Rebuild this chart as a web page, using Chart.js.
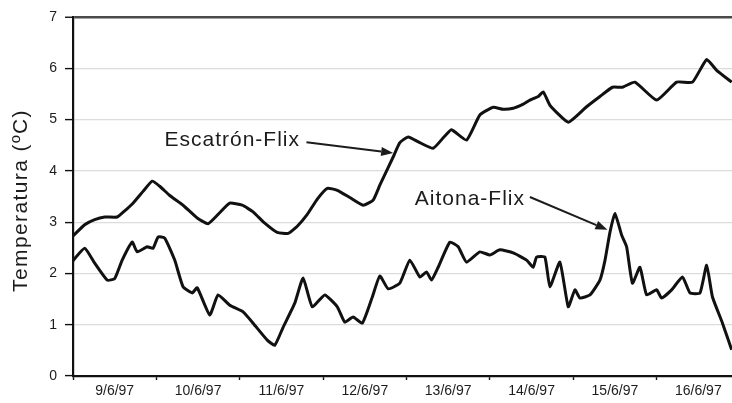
<!DOCTYPE html>
<html>
<head>
<meta charset="utf-8">
<script src="https://cdn.jsdelivr.net/npm/chart.js@4.4.1/dist/chart.umd.min.js"></script>
<style>
  html, body { margin: 0; padding: 0; background: #fff; overflow: hidden; }
  #wrap { position: absolute; left: 0; top: 0; width: 745px; height: 403px; }
</style>
</head>
<body>
<div id="wrap"><canvas id="c" width="745" height="403"></canvas></div>
<script>
// Day labels (one category per day)
const dayLabels = ['9/6/97', '10/6/97', '11/6/97', '12/6/97', '13/6/97', '14/6/97', '15/6/97', '16/6/97'];
const yTicks = [0, 1, 2, 3, 4, 5, 6, 7];
const yTitle = 'Temperatura (ºC)';

// Escatrón-Flix: time in days from 9/6/97 00:00, temperature in ºC
const escatronTime = [0.00, 0.14, 0.26, 0.38, 0.53, 0.62, 0.72, 0.84, 0.95, 1.04, 1.16, 1.32, 1.49, 1.62, 1.74, 1.88, 2.03, 2.16, 2.30, 2.45, 2.58, 2.69, 2.81, 2.93, 3.05, 3.17, 3.32, 3.48, 3.60, 3.68, 3.84, 3.92, 4.02, 4.16, 4.32, 4.46, 4.54, 4.72, 4.88, 5.04, 5.16, 5.28, 5.40, 5.48, 5.58, 5.64, 5.72, 5.94, 6.16, 6.32, 6.47, 6.59, 6.74, 7.00, 7.24, 7.43, 7.60, 7.72, 7.90];
const escatronTemp = [2.73, 2.95, 3.05, 3.10, 3.10, 3.22, 3.37, 3.60, 3.80, 3.70, 3.52, 3.33, 3.08, 2.97, 3.15, 3.37, 3.33, 3.20, 2.98, 2.80, 2.78, 2.92, 3.15, 3.45, 3.66, 3.62, 3.48, 3.33, 3.43, 3.72, 4.27, 4.55, 4.66, 4.55, 4.44, 4.68, 4.80, 4.60, 5.09, 5.24, 5.20, 5.22, 5.30, 5.38, 5.45, 5.54, 5.28, 4.95, 5.25, 5.45, 5.63, 5.63, 5.73, 5.38, 5.73, 5.73, 6.17, 5.96, 5.73];

// Aitona-Flix: time in days from 9/6/97 00:00, temperature in ºC
const aitonaTime = [0.00, 0.14, 0.26, 0.41, 0.50, 0.59, 0.71, 0.77, 0.89, 0.96, 1.02, 1.10, 1.22, 1.32, 1.43, 1.49, 1.64, 1.74, 1.88, 2.04, 2.16, 2.33, 2.42, 2.52, 2.66, 2.76, 2.87, 3.02, 3.17, 3.26, 3.36, 3.47, 3.59, 3.68, 3.78, 3.92, 4.04, 4.16, 4.24, 4.30, 4.38, 4.52, 4.62, 4.72, 4.88, 5.00, 5.12, 5.28, 5.44, 5.52, 5.56, 5.66, 5.72, 5.84, 5.94, 6.02, 6.08, 6.20, 6.32, 6.38, 6.44, 6.50, 6.58, 6.64, 6.71, 6.80, 6.88, 7.00, 7.06, 7.18, 7.31, 7.40, 7.52, 7.60, 7.67, 7.79, 7.90];
const aitonaTemp = [2.25, 2.49, 2.20, 1.87, 1.90, 2.26, 2.61, 2.42, 2.52, 2.49, 2.71, 2.69, 2.26, 1.74, 1.62, 1.72, 1.19, 1.58, 1.38, 1.25, 1.03, 0.70, 0.60, 0.95, 1.42, 1.91, 1.35, 1.58, 1.35, 1.05, 1.15, 1.03, 1.54, 1.95, 1.70, 1.81, 2.26, 1.93, 2.03, 1.87, 2.12, 2.61, 2.52, 2.22, 2.42, 2.36, 2.46, 2.40, 2.26, 2.12, 2.32, 2.32, 1.74, 2.22, 1.35, 1.68, 1.52, 1.58, 1.87, 2.25, 2.80, 3.17, 2.75, 2.52, 1.81, 2.12, 1.58, 1.68, 1.52, 1.68, 1.93, 1.62, 1.62, 2.16, 1.54, 1.03, 0.51];

// Callouts: text anchor, arrow start and arrow tip, in data units (days, ºC)
const callouts = [
  { text: 'Escatrón-Flix', at: [1.91, 4.60], from: [2.80, 4.56], to: [3.84, 4.35] },
  { text: 'Aitona-Flix',   at: [4.76, 3.45], from: [5.48, 3.49], to: [6.41, 2.85] }
];

const FONT = '"Liberation Sans", Arial, sans-serif';
const INK = '#1c1c1c';

function toPoints(t, v) { return t.map((x, i) => ({ x: x, y: v[i] })); }

// Spaced-out text: axis title and callouts with arrows
const textPlugin = {
  id: 'spacedText',
  afterDraw(chart) {
    const ctx = chart.ctx;
    const xs = chart.scales.xd, ys = chart.scales.y;
    const area = chart.chartArea;
    ctx.save();
    ctx.fillStyle = INK;
    ctx.strokeStyle = INK;
    ctx.textAlign = 'center';
    ctx.textBaseline = 'middle';

    // y-axis title
    ctx.save();
    ctx.font = '21px ' + FONT;
    ctx.letterSpacing = '1.4px';
    ctx.translate(21, (area.top + area.bottom) / 2 + 4);
    ctx.rotate(-Math.PI / 2);
    ctx.fillText(yTitle, 0, 0);
    ctx.restore();

    ctx.font = '21px ' + FONT;
    ctx.letterSpacing = '1px';
    callouts.forEach(c => {
      ctx.fillText(c.text, xs.getPixelForValue(c.at[0]), ys.getPixelForValue(c.at[1]));
      const x0 = xs.getPixelForValue(c.from[0]), y0 = ys.getPixelForValue(c.from[1]);
      const x1 = xs.getPixelForValue(c.to[0]), y1 = ys.getPixelForValue(c.to[1]);
      const ang = Math.atan2(y1 - y0, x1 - x0);
      const head = 12, half = 4.5;
      const bx = x1 - head * Math.cos(ang), by = y1 - head * Math.sin(ang);
      ctx.lineWidth = 2;
      ctx.beginPath();
      ctx.moveTo(x0, y0);
      ctx.lineTo(bx, by);
      ctx.stroke();
      ctx.beginPath();
      ctx.moveTo(x1, y1);
      ctx.lineTo(bx + half * Math.sin(ang), by - half * Math.cos(ang));
      ctx.lineTo(bx - half * Math.sin(ang), by + half * Math.cos(ang));
      ctx.closePath();
      ctx.fill();
    });
    ctx.restore();
  }
};

new Chart(document.getElementById('c'), {
  type: 'line',
  data: {
    datasets: [
      { label: 'Escatrón-Flix', data: toPoints(escatronTime, escatronTemp), xAxisID: 'xd',
        borderColor: '#111', borderWidth: 3, pointRadius: 0, tension: 0.15, fill: false },
      { label: 'Aitona-Flix', data: toPoints(aitonaTime, aitonaTemp), xAxisID: 'xd',
        borderColor: '#111', borderWidth: 3, pointRadius: 0, tension: 0.15, fill: false }
    ]
  },
  options: {
    responsive: false,
    devicePixelRatio: 1,
    animation: false,
    layout: { padding: { top: 17, right: 5, left: 0, bottom: 0 } },
    plugins: { legend: { display: false }, tooltip: { enabled: false } },
    scales: {
      x: {
        type: 'category',
        labels: dayLabels,
        offset: true,
        afterFit(s) { s.height = 27; },
        grid: { offset: true, drawOnChartArea: false, drawTicks: true, tickLength: 4, tickColor: '#111', tickWidth: 1.4 },
        border: { display: true, color: '#111', width: 2.2 },
        ticks: { color: INK, padding: 3, maxRotation: 0, autoSkip: false, font: { family: FONT, size: 14 } }
      },
      xd: {
        type: 'linear',
        display: false,
        min: 0,
        max: 8
      },
      y: {
        min: 0,
        max: 7,
        afterFit(s) { s.width = 73; },
        afterBuildTicks(s) { s.ticks = yTicks.map(v => ({ value: v })); },
        grid: {
          color: ctx => (ctx.tick && ctx.tick.value === 7) ? '#4a4a4a' : '#dcdcdc',
          lineWidth: ctx => (ctx.tick && ctx.tick.value === 7) ? 2.5 : 1.2,
          tickLength: 8,
          tickColor: '#111',
          tickWidth: 1.4
        },
        border: { display: true, color: '#111', width: 2.2 },
        ticks: { color: INK, padding: 8, font: { family: FONT, size: 14 } }
      }
    }
  },
  plugins: [textPlugin]
});
</script>
</body>
</html>
